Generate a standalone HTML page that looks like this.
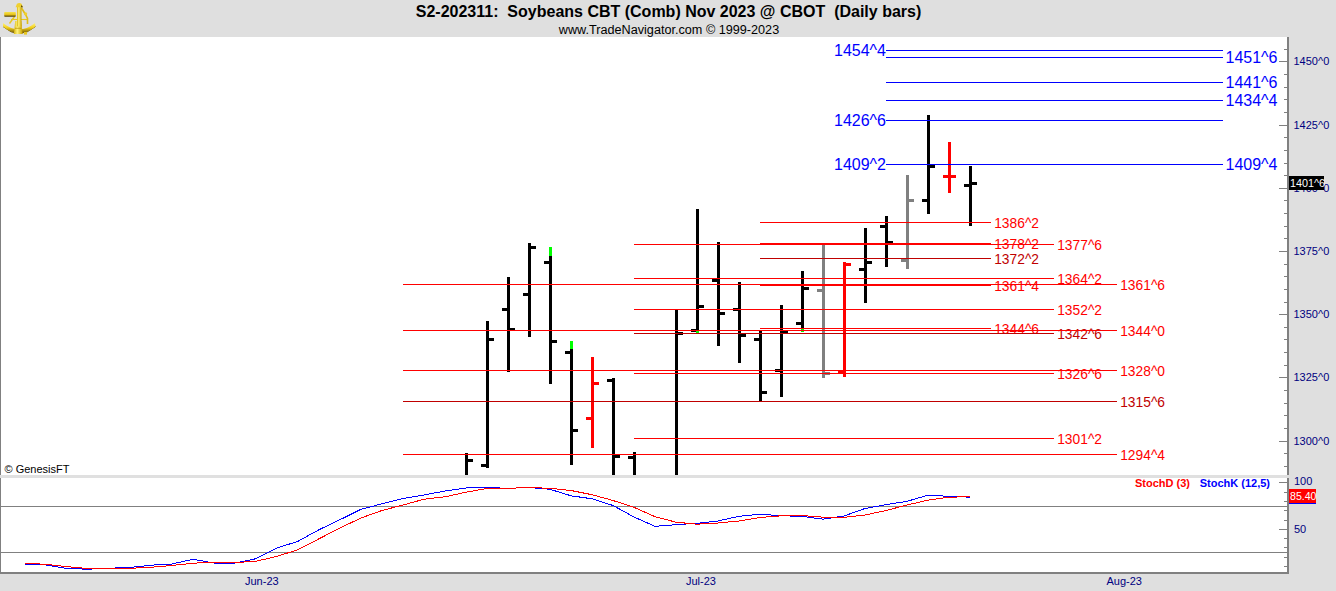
<!DOCTYPE html>
<html><head><meta charset="utf-8"><style>
html,body{margin:0;padding:0;background:#dfdfdf;width:1336px;height:591px;overflow:hidden}
svg{display:block}
</style></head><body>
<svg width="1336" height="591" viewBox="0 0 1336 591" shape-rendering="crispEdges">
<rect x="0" y="0" width="1336" height="591" fill="#dfdfdf"/>
<rect x="0" y="37" width="1287" height="438" fill="#ffffff"/>
<rect x="0" y="478" width="1287" height="94" fill="#ffffff"/>
<rect x="0" y="475" width="1287" height="3" fill="#e0e0e0"/>
<rect x="0" y="37" width="1" height="438" fill="#808080"/>
<rect x="0" y="478" width="1" height="95" fill="#808080"/>
<rect x="0" y="572" width="1289" height="2" fill="#808080"/>
<rect x="1287" y="37" width="2" height="438" fill="#808080"/>
<rect x="1287" y="478" width="2" height="96" fill="#808080"/>
<rect x="1284" y="49" width="3" height="1" fill="#808080"/>
<rect x="1279" y="61" width="8" height="1" fill="#808080"/>
<rect x="1284" y="74" width="3" height="1" fill="#808080"/>
<rect x="1284" y="87" width="3" height="1" fill="#808080"/>
<rect x="1284" y="99" width="3" height="1" fill="#808080"/>
<rect x="1284" y="112" width="3" height="1" fill="#808080"/>
<rect x="1279" y="125" width="8" height="1" fill="#808080"/>
<rect x="1284" y="137" width="3" height="1" fill="#808080"/>
<rect x="1284" y="150" width="3" height="1" fill="#808080"/>
<rect x="1284" y="163" width="3" height="1" fill="#808080"/>
<rect x="1284" y="175" width="3" height="1" fill="#808080"/>
<rect x="1279" y="188" width="8" height="1" fill="#808080"/>
<rect x="1284" y="200" width="3" height="1" fill="#808080"/>
<rect x="1284" y="213" width="3" height="1" fill="#808080"/>
<rect x="1284" y="226" width="3" height="1" fill="#808080"/>
<rect x="1284" y="238" width="3" height="1" fill="#808080"/>
<rect x="1279" y="251" width="8" height="1" fill="#808080"/>
<rect x="1284" y="264" width="3" height="1" fill="#808080"/>
<rect x="1284" y="276" width="3" height="1" fill="#808080"/>
<rect x="1284" y="289" width="3" height="1" fill="#808080"/>
<rect x="1284" y="302" width="3" height="1" fill="#808080"/>
<rect x="1279" y="314" width="8" height="1" fill="#808080"/>
<rect x="1284" y="327" width="3" height="1" fill="#808080"/>
<rect x="1284" y="339" width="3" height="1" fill="#808080"/>
<rect x="1284" y="352" width="3" height="1" fill="#808080"/>
<rect x="1284" y="365" width="3" height="1" fill="#808080"/>
<rect x="1279" y="377" width="8" height="1" fill="#808080"/>
<rect x="1284" y="390" width="3" height="1" fill="#808080"/>
<rect x="1284" y="403" width="3" height="1" fill="#808080"/>
<rect x="1284" y="415" width="3" height="1" fill="#808080"/>
<rect x="1284" y="428" width="3" height="1" fill="#808080"/>
<rect x="1279" y="441" width="8" height="1" fill="#808080"/>
<rect x="1284" y="453" width="3" height="1" fill="#808080"/>
<rect x="1284" y="466" width="3" height="1" fill="#808080"/>
<rect x="1279" y="482" width="8" height="1" fill="#808080"/>
<rect x="1284" y="492" width="3" height="1" fill="#808080"/>
<rect x="1284" y="501" width="3" height="1" fill="#808080"/>
<rect x="1284" y="510" width="3" height="1" fill="#808080"/>
<rect x="1284" y="520" width="3" height="1" fill="#808080"/>
<rect x="1279" y="529" width="8" height="1" fill="#808080"/>
<rect x="1284" y="538" width="3" height="1" fill="#808080"/>
<rect x="1284" y="547" width="3" height="1" fill="#808080"/>
<rect x="1284" y="557" width="3" height="1" fill="#808080"/>
<rect x="1284" y="566" width="3" height="1" fill="#808080"/>
<rect x="1" y="506" width="1286" height="1" fill="#808080"/>
<rect x="1" y="552" width="1286" height="1" fill="#808080"/>
<g>
<rect x="465" y="453" width="3" height="22" fill="#000"/>
<rect x="468" y="459" width="5" height="3" fill="#000"/>
<rect x="486" y="321" width="3" height="147" fill="#000"/>
<rect x="481" y="464" width="5" height="3" fill="#000"/>
<rect x="489" y="338" width="5" height="3" fill="#000"/>
<rect x="507" y="277" width="3" height="95" fill="#000"/>
<rect x="502" y="308" width="5" height="3" fill="#000"/>
<rect x="510" y="328" width="5" height="3" fill="#000"/>
<rect x="528" y="243" width="3" height="94" fill="#000"/>
<rect x="523" y="293" width="5" height="3" fill="#000"/>
<rect x="531" y="246" width="5" height="3" fill="#000"/>
<rect x="549" y="247" width="3" height="137" fill="#000"/>
<rect x="544" y="261" width="5" height="3" fill="#000"/>
<rect x="552" y="340" width="5" height="3" fill="#000"/>
<rect x="549" y="247" width="3" height="9" fill="#00ff00"/>
<rect x="570" y="341" width="3" height="124" fill="#000"/>
<rect x="565" y="351" width="5" height="3" fill="#000"/>
<rect x="573" y="429" width="5" height="3" fill="#000"/>
<rect x="570" y="341" width="3" height="8" fill="#00ff00"/>
<rect x="591" y="357" width="3" height="91" fill="#ff0000"/>
<rect x="586" y="417" width="5" height="3" fill="#ff0000"/>
<rect x="594" y="382" width="5" height="3" fill="#ff0000"/>
<rect x="612" y="378" width="3" height="97" fill="#000"/>
<rect x="607" y="379" width="5" height="3" fill="#000"/>
<rect x="615" y="455" width="5" height="3" fill="#000"/>
<rect x="633" y="452" width="3" height="23" fill="#000"/>
<rect x="628" y="456" width="5" height="3" fill="#000"/>
<rect x="675" y="310" width="3" height="165" fill="#000"/>
<rect x="678" y="332" width="5" height="3" fill="#000"/>
<rect x="696" y="209" width="3" height="124" fill="#000"/>
<rect x="691" y="329" width="5" height="3" fill="#000"/>
<rect x="699" y="305" width="5" height="3" fill="#000"/>
<rect x="696" y="331" width="3" height="2" fill="#00ff00"/>
<rect x="717" y="242" width="3" height="104" fill="#000"/>
<rect x="712" y="279" width="5" height="3" fill="#000"/>
<rect x="720" y="312" width="5" height="3" fill="#000"/>
<rect x="738" y="282" width="3" height="81" fill="#000"/>
<rect x="733" y="308" width="5" height="3" fill="#000"/>
<rect x="741" y="334" width="5" height="3" fill="#000"/>
<rect x="759" y="331" width="3" height="70" fill="#000"/>
<rect x="754" y="338" width="5" height="3" fill="#000"/>
<rect x="762" y="391" width="5" height="3" fill="#000"/>
<rect x="780" y="305" width="3" height="92" fill="#000"/>
<rect x="775" y="369" width="5" height="3" fill="#000"/>
<rect x="783" y="331" width="5" height="3" fill="#000"/>
<rect x="801" y="271" width="3" height="61" fill="#000"/>
<rect x="796" y="322" width="5" height="3" fill="#000"/>
<rect x="804" y="287" width="5" height="3" fill="#000"/>
<rect x="801" y="329" width="3" height="3" fill="#00ff00"/>
<rect x="822" y="245" width="3" height="133" fill="#808080"/>
<rect x="817" y="289" width="5" height="3" fill="#808080"/>
<rect x="825" y="372" width="5" height="3" fill="#808080"/>
<rect x="843" y="262" width="3" height="115" fill="#ff0000"/>
<rect x="838" y="371" width="5" height="3" fill="#ff0000"/>
<rect x="846" y="263" width="5" height="3" fill="#ff0000"/>
<rect x="864" y="228" width="3" height="75" fill="#000"/>
<rect x="859" y="268" width="5" height="3" fill="#000"/>
<rect x="867" y="261" width="5" height="3" fill="#000"/>
<rect x="885" y="216" width="3" height="51" fill="#000"/>
<rect x="880" y="225" width="5" height="3" fill="#000"/>
<rect x="888" y="241" width="5" height="3" fill="#000"/>
<rect x="906" y="175" width="3" height="94" fill="#808080"/>
<rect x="901" y="259" width="5" height="3" fill="#808080"/>
<rect x="909" y="199" width="5" height="3" fill="#808080"/>
<rect x="927" y="115" width="3" height="99" fill="#000"/>
<rect x="922" y="199" width="5" height="3" fill="#000"/>
<rect x="930" y="165" width="5" height="3" fill="#000"/>
<rect x="948" y="142" width="3" height="51" fill="#ff0000"/>
<rect x="943" y="175" width="5" height="3" fill="#ff0000"/>
<rect x="951" y="175" width="5" height="3" fill="#ff0000"/>
<rect x="969" y="166" width="3" height="60" fill="#000"/>
<rect x="964" y="184" width="5" height="3" fill="#000"/>
<rect x="972" y="182" width="5" height="3" fill="#000"/>
</g>
<g font-family="Liberation Sans, sans-serif" shape-rendering="auto">
<text x="886" y="56.3" font-size="16" fill="#0000ff" text-anchor="end">1454^4</text>
<text x="1225.5" y="63.3" font-size="16" fill="#0000ff">1451^6</text>
<text x="1225.5" y="88.3" font-size="16" fill="#0000ff">1441^6</text>
<text x="1225.5" y="106.3" font-size="16" fill="#0000ff">1434^4</text>
<text x="886" y="126.3" font-size="16" fill="#0000ff" text-anchor="end">1426^6</text>
<text x="886" y="170.3" font-size="16" fill="#0000ff" text-anchor="end">1409^2</text>
<text x="1225.5" y="170.3" font-size="16" fill="#0000ff">1409^4</text>
<text transform="translate(994.2,227.5) scale(0.92,1)" font-size="15" fill="#ff0000">1386^2</text>
<text transform="translate(994.2,248.5) scale(0.92,1)" font-size="15" fill="#ff0000">1378^2</text>
<text transform="translate(994.2,263.5) scale(0.92,1)" font-size="15" fill="#c00000">1372^2</text>
<text transform="translate(994.2,290.5) scale(0.92,1)" font-size="15" fill="#ff0000">1361^4</text>
<text transform="translate(994.2,333.5) scale(0.92,1)" font-size="15" fill="#ff0000">1344^6</text>
<text transform="translate(1057.2,249.5) scale(0.92,1)" font-size="15" fill="#ff0000">1377^6</text>
<text transform="translate(1057.2,283.5) scale(0.92,1)" font-size="15" fill="#ff0000">1364^2</text>
<text transform="translate(1057.2,314.5) scale(0.92,1)" font-size="15" fill="#ff0000">1352^2</text>
<text transform="translate(1057.2,338.5) scale(0.92,1)" font-size="15" fill="#c00000">1342^6</text>
<text transform="translate(1057.2,378.5) scale(0.92,1)" font-size="15" fill="#ff0000">1326^6</text>
<text transform="translate(1057.2,443.5) scale(0.92,1)" font-size="15" fill="#ff0000">1301^2</text>
<text transform="translate(1120.2,289.5) scale(0.92,1)" font-size="15" fill="#ff0000">1361^6</text>
<text transform="translate(1120.2,335.5) scale(0.92,1)" font-size="15" fill="#ff0000">1344^0</text>
<text transform="translate(1120.2,375.5) scale(0.92,1)" font-size="15" fill="#ff0000">1328^0</text>
<text transform="translate(1120.2,406.5) scale(0.92,1)" font-size="15" fill="#c00000">1315^6</text>
<text transform="translate(1120.2,459.5) scale(0.92,1)" font-size="15" fill="#ff0000">1294^4</text>
</g>
<rect x="886" y="50" width="337" height="1" fill="#0000ff"/>
<rect x="886" y="57" width="337" height="1" fill="#0000ff"/>
<rect x="886" y="82" width="337" height="1" fill="#0000ff"/>
<rect x="886" y="100" width="337" height="1" fill="#0000ff"/>
<rect x="886" y="120" width="337" height="1" fill="#0000ff"/>
<rect x="886" y="164" width="337" height="1" fill="#0000ff"/>
<rect x="760" y="222" width="231" height="1" fill="#ff0000"/>
<rect x="760" y="243" width="231" height="1" fill="#ff0000"/>
<rect x="760" y="258" width="231" height="1" fill="#c00000"/>
<rect x="760" y="285" width="231" height="1" fill="#ff0000"/>
<rect x="760" y="328" width="231" height="1" fill="#ff0000"/>
<rect x="634" y="244" width="420" height="1" fill="#ff0000"/>
<rect x="634" y="278" width="420" height="1" fill="#ff0000"/>
<rect x="634" y="309" width="420" height="1" fill="#ff0000"/>
<rect x="634" y="333" width="420" height="1" fill="#c00000"/>
<rect x="634" y="373" width="420" height="1" fill="#ff0000"/>
<rect x="634" y="438" width="420" height="1" fill="#ff0000"/>
<rect x="403" y="284" width="714" height="1" fill="#ff0000"/>
<rect x="403" y="330" width="714" height="1" fill="#ff0000"/>
<rect x="403" y="370" width="714" height="1" fill="#ff0000"/>
<rect x="403" y="401" width="714" height="1" fill="#c00000"/>
<rect x="403" y="454" width="714" height="1" fill="#ff0000"/>
<polyline points="25,564.2 46,565.0 67,568.5 88,569.2 109,568.2 130,567.5 151,565.2 172,564.0 193,559.3 214,563.0 235,563.0 256,558.7 277,548.0 298,541.3 319,529.7 340,519.7 361,509.3 382,503.8 403,498.5 424,495.0 445,491.0 466,488.0 487,487.5 508,488.3 529,487.5 550,489.3 571,495.8 592,498.8 613,505.5 634,517.0 655,526.3 676,524.7 697,523.3 718,521.0 739,516.3 760,514.2 781,515.8 802,516.3 823,519.2 844,516.0 865,508.5 886,504.7 907,501.3 928,495.2 949,496.3 970,497.2" fill="none" stroke="#0000ff" stroke-width="1"/>
<polyline points="25,563.3 46,564.3 67,566.7 88,568.5 109,568.3 130,568.3 151,567.3 172,565.5 193,563.2 214,562.2 235,562.5 256,561.3 277,556.3 298,549.7 319,538.8 340,528.0 361,518.0 382,510.5 403,505.0 424,499.2 445,496.8 466,492.2 487,488.5 508,488.3 529,487.5 550,488.3 571,490.5 592,494.7 613,500.5 634,507.3 655,516.7 676,522.2 697,524.2 718,523.0 739,521.0 760,517.5 781,515.8 802,515.5 823,517.2 844,517.3 865,515.0 886,510.5 907,505.0 928,500.2 949,497.2 970,496.7" fill="none" stroke="#ff0000" stroke-width="1"/>
<g font-family="Liberation Sans, sans-serif" shape-rendering="auto">
<text x="668.5" y="17" font-size="16" font-weight="bold" fill="#000" text-anchor="middle" xml:space="preserve">S2-202311:&#160; Soybeans CBT (Comb) Nov 2023 @ CBOT&#160; (Daily bars)</text>
<text x="669" y="33.5" font-size="12.65" fill="#000" text-anchor="middle">www.TradeNavigator.com © 1999-2023</text>
<text x="4.5" y="473" font-size="11" fill="#000">© GenesisFT</text>
<text x="1293.5" y="445" font-size="11" fill="#000080">1300^0</text>
<text x="1293.5" y="381" font-size="11" fill="#000080">1325^0</text>
<text x="1293.5" y="318" font-size="11" fill="#000080">1350^0</text>
<text x="1293.5" y="255" font-size="11" fill="#000080">1375^0</text>
<text x="1293.5" y="192" font-size="11" fill="#000080">1400^0</text>
<text x="1293.5" y="129" font-size="11" fill="#000080">1425^0</text>
<text x="1293.5" y="65" font-size="11" fill="#000080">1450^0</text>
<text x="1294" y="485" font-size="11" fill="#000080">100</text>
<text x="1294" y="533" font-size="11" fill="#000080">50</text>
<text x="1135" y="487" font-size="11" font-weight="bold" fill="#ff0000">StochD (3)</text>
<text x="1199.7" y="487" font-size="11" font-weight="bold" fill="#0000ff">StochK (12,5)</text>
<text x="245" y="585" font-size="11" fill="#000080">Jun-23</text>
<text x="686" y="585" font-size="11" fill="#000080">Jul-23</text>
<text x="1106.5" y="585" font-size="11" fill="#000080">Aug-23</text>
</g>
<rect x="1289" y="176" width="35" height="14" fill="#000"/>
<text x="1290" y="187" font-family="Liberation Sans, sans-serif" font-size="10.8" fill="#fff" shape-rendering="auto">1401^6</text>
<rect x="1289" y="503" width="27" height="1" fill="#0000ff"/>
<rect x="1289" y="489" width="27" height="14" fill="#ff0000"/>
<text x="1290" y="500" font-family="Liberation Sans, sans-serif" font-size="10.6" fill="#fff" shape-rendering="auto">85.40</text>
<g shape-rendering="auto">
<defs><linearGradient id="gband" x1="0" y1="0" x2="0" y2="1"><stop offset="0" stop-color="#fff27a"/><stop offset="0.45" stop-color="#f2cf1c"/><stop offset="1" stop-color="#6a5200"/></linearGradient>
<linearGradient id="gtel" x1="0" y1="0" x2="0" y2="1"><stop offset="0" stop-color="#f7e24a"/><stop offset="0.55" stop-color="#e6c21a"/><stop offset="1" stop-color="#3e3000"/></linearGradient>
<linearGradient id="gstem" x1="0" y1="0" x2="1" y2="0"><stop offset="0" stop-color="#d8b410"/><stop offset="0.4" stop-color="#fff27a"/><stop offset="1" stop-color="#c8a000"/></linearGradient></defs>
<path d="M11,19.5 L28,19.5" stroke="#e8c820" stroke-width="1.1" fill="none"/>
<path d="M14.5,16.5 L9.5,23.5" stroke="#e8c820" stroke-width="1.4" fill="none"/>
<path d="M21.5,8 L25.5,14.5 L27.5,18.5 L27.5,24" stroke="#e0be18" stroke-width="1.6" fill="none"/>
<circle cx="25.6" cy="13.8" r="1.6" fill="#f0d030"/>
<path d="M3,26.5 Q19,40.5 35.5,26.5" stroke="#5a4400" stroke-width="0.9" fill="none"/>
<path d="M3,23 Q19,36 35,23 L35.5,26.5 Q19,40.5 3,26.5 Z" fill="url(#gband)"/>
<path d="M15.2,21 L21.3,21 L22.6,34 L13.8,34 Z" fill="url(#gstem)"/>
<rect x="17" y="6.5" width="4.5" height="20" fill="url(#gstem)"/>
<path d="M15.5,7.2 L17,3.8 Q19.2,2.3 21.5,3.8 L23,7.2 Z" fill="#f0d030"/>
<path d="M21.5,5 L23,7.2 L21,7.2 Z" fill="#4a3a00"/>
<rect x="4.2" y="12" width="11.6" height="4.8" rx="0.8" fill="url(#gtel)"/>
<rect x="24" y="32" width="3" height="2.6" fill="#e8c820"/>
<path d="M15,28.3 h6" stroke="#b89000" stroke-width="0.7"/>
</g>
</svg>
</body></html>
